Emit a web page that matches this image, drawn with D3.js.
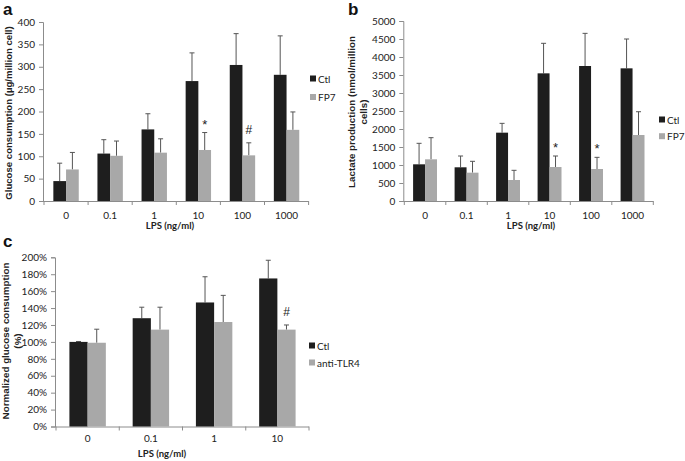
<!DOCTYPE html>
<html><head><meta charset="utf-8">
<script src="https://cdn.jsdelivr.net/npm/d3@7"></script>
<style>
html,body{margin:0;padding:0;background:#fff;}
svg{display:block;}
.tick text{font-family:Lato,"Open Sans",sans-serif;font-size:10px;fill:#222;}
</style></head>
<body>
<svg id="chart" width="685" height="461"></svg>
<script>
// ---- data ----
const categoriesAB = ["0", "0.1", "1", "10", "100", "1000"];
const categoriesC = ["0", "0.1", "1", "10"];

const glucoseCtl = [44.5, 106, 160, 268, 304, 282];
const glucoseCtlErr = [40, 31, 35, 63, 70, 87];
const glucoseFP7 = [70.5, 101, 108, 114, 102, 159];
const glucoseFP7Err = [38, 33, 31, 39, 28, 40];
const glucoseMarks = ["", "", "", "*", "#", ""];
const glucoseTicks = [0, 50, 100, 150, 200, 250, 300, 350, 400];

const lactateCtl = [1019, 936, 1898, 3546, 3750, 3685];
const lactateCtlErr = [583, 314, 259, 834, 907, 815];
const lactateFP7 = [1158, 787, 583, 944, 889, 1833];
const lactateFP7Err = [601, 315, 269, 306, 324, 647];
const lactateMarks = ["", "", "", "*", "*", ""];
const lactateTicks = [0, 500, 1000, 1500, 2000, 2500, 3000, 3500, 4000, 4500, 5000];

const normCtl = [1.00, 1.28, 1.466, 1.75];
const normCtlErr = [0.005, 0.13, 0.304, 0.215];
const normTLR4 = [0.99, 1.145, 1.235, 1.145];
const normTLR4Err = [0.16, 0.265, 0.315, 0.055];
const normMarks = ["", "", "", "#"];
const normTicks = [0, 0.2, 0.4, 0.6, 0.8, 1.0, 1.2, 1.4, 1.6, 1.8, 2.0];

const svg = d3.select("#chart");
const DARK = "#1e1e1e", LIGHT = "#a8a8a8", AXIS = "#8c8c8c", ERR = "#555";
const TXT = "Lato, 'Open Sans', sans-serif";
const BOLD = "'Liberation Sans', Arial, sans-serif";

function panel(o) {
  const g = svg.append("g");
  const x = d3.scaleBand().domain(o.cats).range([o.x0, o.x1]).padding(0);
  const y = d3.scaleLinear().domain([0, o.ymax]).range([o.y0, o.y1]);
  const bw = x.bandwidth() * 0.288;

  // y axis
  const ya = g.append("g").attr("transform", `translate(${o.x0 - 1},0)`)
    .call(d3.axisLeft(y).tickValues(o.ticks).tickSize(4).tickPadding(4).tickFormat(o.fmt));
  ya.select(".domain").attr("stroke", AXIS);
  ya.selectAll(".tick line").attr("stroke", AXIS);

  // x axis line + between-category ticks
  g.append("line").attr("x1", o.x0 - 1).attr("x2", o.x1).attr("y1", o.y0 + 0.5).attr("y2", o.y0 + 0.5)
    .attr("stroke", AXIS);
  const bounds = o.cats.map(c => x(c)).concat([o.x1]);
  g.selectAll(".xt").data(bounds).enter().append("line")
    .attr("x1", d => d).attr("x2", d => d).attr("y1", o.y0).attr("y2", o.y0 + 4).attr("stroke", AXIS);
  g.selectAll(".xl").data(o.cats).enter().append("text")
    .attr("x", d => x(d) + x.bandwidth() / 2).attr("y", o.y0 + o.xlOff)
    .attr("text-anchor", "middle").attr("font-family", TXT)
    .attr("font-size", 10).attr("fill", "#222").text(d => d);

  const series = [
    {vals: o.s1, err: o.e1, color: DARK, off: -bw},
    {vals: o.s2, err: o.e2, color: LIGHT, off: 0}
  ];
  series.forEach(s => {
    const cx = (i) => x(o.cats[i]) + x.bandwidth() / 2 + s.off;
    g.selectAll(null).data(s.vals).enter().append("line")
      .attr("x1", (d, i) => cx(i) + bw / 2).attr("x2", (d, i) => cx(i) + bw / 2)
      .attr("y1", d => y(d)).attr("y2", (d, i) => y(d + s.err[i]))
      .attr("stroke", ERR).attr("stroke-width", 1);
    g.selectAll(null).data(s.vals).enter().append("line")
      .attr("x1", (d, i) => cx(i) + bw / 2 - 2.5).attr("x2", (d, i) => cx(i) + bw / 2 + 2.5)
      .attr("y1", (d, i) => y(d + s.err[i])).attr("y2", (d, i) => y(d + s.err[i]))
      .attr("stroke", ERR).attr("stroke-width", 1);
    g.selectAll(null).data(s.vals).enter().append("rect")
      .attr("x", (d, i) => cx(i)).attr("width", bw)
      .attr("y", d => y(d)).attr("height", d => o.y0 - y(d))
      .attr("fill", s.color);
  });
  // significance marks
  g.selectAll(null).data(o.marks).enter().append("text")
    .attr("x", (d, i) => x(o.cats[i]) + x.bandwidth() / 2 + bw / 2)
    .attr("y", (d, i) => y(o.s2[i] + o.e2[i]) - (d === "*" ? 4 : 9))
    .attr("text-anchor", "middle").attr("font-family", BOLD)
    .attr("font-size", d => d === "*" ? 13 : 12).attr("fill", "#222").text(d => d);

  // legend
  o.legend.forEach((t, i) => {
    g.append("rect").attr("x", o.lx).attr("y", o.ly + i * o.lgap - 3.5).attr("width", 6).attr("height", 6)
      .attr("fill", i === 0 ? DARK : LIGHT);
    g.append("text").attr("x", o.lx + 8).attr("y", o.ly + i * o.lgap + 3.5)
      .attr("font-family", TXT).attr("font-size", 10).attr("fill", "#222").text(t);
  });

  // x title
  g.append("text").attr("x", o.xtx).attr("y", o.xty).attr("text-anchor", "middle")
    .attr("font-family", TXT).attr("font-weight", "bold")
    .attr("font-size", 9.5).attr("fill", "#222").text("LPS (ng/ml)");
  // y title
  const yt = g.append("text").attr("transform", `translate(${o.ytx},${o.yty}) rotate(-90)`)
    .attr("text-anchor", "middle").attr("font-family", BOLD)
    .attr("font-weight", "bold").attr("font-size", o.ytSize).attr("fill", "#222");
  o.ytitle.forEach((t, i) => yt.append("tspan").attr("x", 0).attr("dy", i === 0 ? 0 : 12).text(t));
  // panel letter
  g.append("text").attr("x", o.px).attr("y", o.py).attr("font-family", BOLD)
    .attr("font-weight", "bold").attr("font-size", 17).attr("fill", "#111").text(o.letter);
}

panel({cats: categoriesAB, s1: glucoseCtl, e1: glucoseCtlErr, s2: glucoseFP7, e2: glucoseFP7Err,
  marks: glucoseMarks, ticks: glucoseTicks, ymax: 400, fmt: d3.format("d"),
  x0: 44, x1: 308.6, y0: 201, y1: 22, xlOff: 17.5, legend: ["Ctl", "FP7"], lx: 310, ly: 79, lgap: 18.5,
  xtx: 170, xty: 229, ytx: 12, yty: 113, ytSize: 9.6, ytitle: ["Glucose consumption (\u00b5g/million cell)"],
  letter: "a", px: 3, py: 15});

panel({cats: categoriesAB, s1: lactateCtl, e1: lactateCtlErr, s2: lactateFP7, e2: lactateFP7Err,
  marks: lactateMarks, ticks: lactateTicks, ymax: 5000, fmt: d3.format("d"),
  x0: 404.3, x1: 653.3, y0: 201, y1: 21, xlOff: 17.5, legend: ["Ctl", "FP7"], lx: 659, ly: 120, lgap: 16.7,
  xtx: 531, xty: 229, ytx: 355, yty: 112, ytSize: 9.8, ytitle: ["Lactate production (nmol/million", "cells)"],
  letter: "b", px: 348, py: 15});

panel({cats: categoriesC, s1: normCtl, e1: normCtlErr, s2: normTLR4, e2: normTLR4Err,
  marks: normMarks, ticks: normTicks, ymax: 2, fmt: d3.format(".0%"),
  x0: 56, x1: 309, y0: 426.5, y1: 257.3, xlOff: 15.5, legend: ["Ctl", "anti-TLR4"], lx: 309, ly: 346, lgap: 17,
  xtx: 162, xty: 457, ytx: 9, yty: 341, ytSize: 9.8, ytitle: ["Normalized glucose consumption", "(%)"],
  letter: "c", px: 3, py: 247});
</script>
</body></html>
